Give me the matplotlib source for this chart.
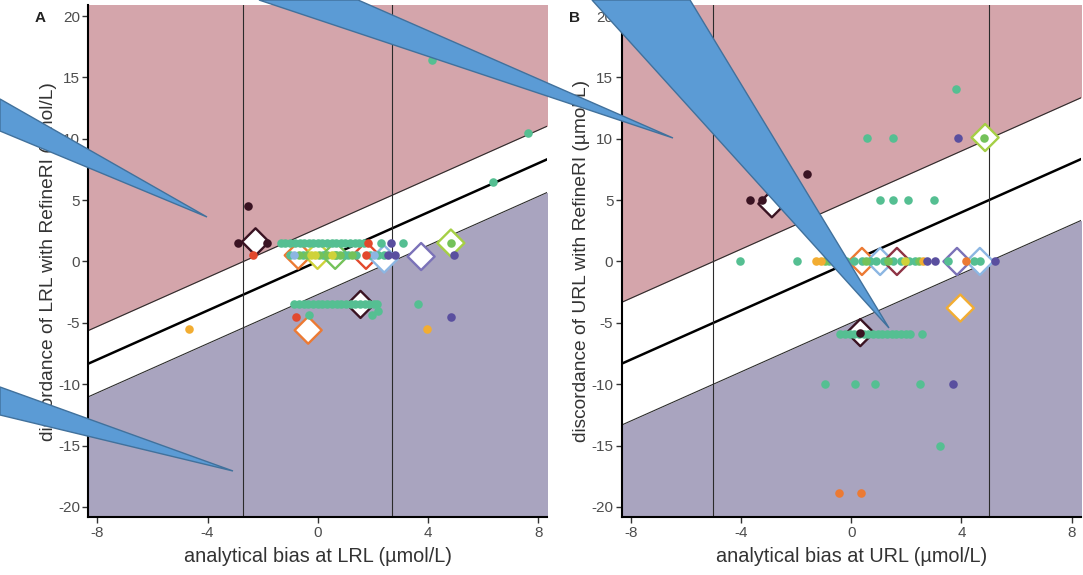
import matplotlib
matplotlib.use("Agg")
import matplotlib.pyplot as plt
from matplotlib.patches import Polygon
import numpy as np

plt.rcParams['font.family'] = ['Liberation Sans', 'DejaVu Sans']

# ---------------- colours ----------------
C_DARK = "#3a1322"
C_RED = "#e2492d"
C_ORANGE = "#ec7a33"
C_YELLOW = "#f2ad32"
C_YGREEN = "#cfd23a"
C_LIME = "#a5cf45"
C_GREEN = "#74c25a"
C_TEAL = "#55bf92"
C_LBLUE = "#8cb6e2"
C_PURPLE = "#5a4f9f"
C_DIAPURP = "#7b72b8"
C_DARKRED = "#8e3344"

RED_ZONE = "#d4a5ab"
BLUE_ZONE = "#a9a4bf"

# ---------------- panel settings ----------------
xlim = (-8.33, 8.33)
ylim = (-20.85, 20.9)
xticks = [-8, -4, 0, 4, 8]
yticks = [-20, -15, -10, -5, 0, 5, 10, 15, 20]
limit_A = 2.7   # band half-width / vertical lines panel A
limit_B = 5.0   # panel B

# ---------------- panel A data ----------------
A_dark_x = [-2.55, -2.9, -1.83]
A_dark_y = [4.5, 1.5, 1.5]
A_red_x = [-2.36, 1.84, 1.75, -0.8]
A_red_y = [0.5, 1.5, 0.5, -4.5]
A_yellow_x = [-4.68, 3.97]
A_yellow_y = [-5.5, -5.5]
A_teal_x = [-1.35, -1.18, -1.0, -0.83, -0.66, -0.5, -0.33, -0.16, 0.0, 0.17, 0.34, 0.5,
            0.67, 0.84, 1.0, 1.17, 1.34, 1.5, 1.67, 2.29, 3.11,
            -1.0, -0.55, 0.2, 0.65, 0.95, 1.1, 1.4, 1.9, 2.2, 2.4,
            -0.85, -0.68, -0.51, -0.34, -0.17, 0.0, 0.17, 0.34, 0.51, 0.68, 0.85, 1.02,
            1.19, 1.36, 1.53, 1.7, 1.87, 2.04, 2.15, 3.62, -0.32, 2.2, 1.95,
            4.13, 7.64, 6.36]
A_teal_y = [1.5] * 21 + [0.5] * 10 + [-3.5] * 19 + [-3.5, -4.4, -4.0, -4.4, 16.4, 10.5, 6.5]
A_green_x = [-0.7, -0.4, 0.05, 0.35, 0.8, 1.25, 0.63, 4.83]
A_green_y = [0.5, 0.5, 0.5, 0.5, 0.5, 0.5, 0.5, 1.5]
A_ygreen_x = [-0.25, -0.1, 0.5]
A_ygreen_y = [0.5, 0.5, 0.5]
A_lblue_x = [-0.85, 2.05]
A_lblue_y = [0.5, 0.5]
A_purple_x = [2.65, 2.55, 2.8, 4.96, 4.83]
A_purple_y = [1.5, 0.5, 0.5, 0.5, -4.5]

A_dia_x = [-2.26, -0.71, -0.01, 0.63, 1.75, 2.41, 3.75, 4.83, 1.55, -0.35]
A_dia_y = [1.6, 0.5, 0.5, 0.5, 0.5, 0.2, 0.4, 1.5, -3.5, -5.6]
A_dia_c = [C_DARK, C_ORANGE, C_YGREEN, C_GREEN, C_RED, C_LBLUE, C_DIAPURP, C_LIME, C_DARK, C_ORANGE]

# ---------------- panel B data ----------------
B_dark_x = [-3.67, -3.24, -1.61, 0.33]
B_dark_y = [5.0, 5.0, 7.1, -5.8]
B_teal_x = [0.59, 1.51, 3.81, 1.03, 1.5, 2.06, 2.99, -4.03, -1.95,
            -0.8, -0.5, -0.2, 0.1, 0.4, 0.7, 0.9, 1.2, 1.5, 1.8, 2.1, 2.3, 3.53, 4.44, 4.68,
            -0.4, -0.23, -0.06, 0.11, 0.28, 0.45, 0.62, 0.79, 0.96, 1.13, 1.3, 1.47, 1.64,
            1.81, 1.98, 2.15, 2.56,
            -0.94, 0.15, 0.87, 2.48, 3.23]
B_teal_y = [10.1, 10.1, 14.06, 5.0, 5.0, 5.0, 5.0, 0.0, 0.0] + [0.0] * 15 + [-5.9] * 17 + \
           [-10.0, -10.0, -10.0, -10.0, -15.0]
B_green_x = [-0.95, -0.35, 0.55, 1.35, 2.45, 4.83]
B_green_y = [0.0, 0.0, 0.0, 0.0, 0.0, 10.1]
B_yellow_x = [-1.27, -1.1, 2.6]
B_yellow_y = [0.0, 0.0, 0.0]
B_ygreen_x = [-0.65, 1.95]
B_ygreen_y = [0.0, 0.0]
B_purple_x = [3.87, 2.75, 3.05, 5.23, 3.69]
B_purple_y = [10.1, 0.0, 0.0, 0.0, -10.0]
B_orange_x = [-0.44, 0.36, 4.17]
B_orange_y = [-18.9, -18.9, 0.0]

B_dia_x = [-2.88, 0.39, 1.05, 1.66, 3.84, 4.67, 3.96, 4.86, 0.33]
B_dia_y = [4.7, 0.0, 0.0, 0.0, 0.0, 0.0, -3.8, 10.1, -5.8]
B_dia_c = [C_DARK, C_ORANGE, C_LBLUE, C_DARKRED, C_DIAPURP, C_LBLUE, C_YELLOW, C_LIME, C_DARK]

# ---------------- callout overlays (figure pixels) ----------------
callouts = [
    [(259, 0), (358, 0), (673, 138)],
    [(0, 99), (0, 131), (207, 217)],
    [(0, 387), (0, 415), (233, 471)],
    [(592, 0), (690, 0), (889, 328)],
]

W, H = 1083, 575
fig = plt.figure(figsize=(W / 100, H / 100), dpi=100)


def make_panel(rect, lim, series, dia, xlabel, ylabel, letter, letter_x):
    ax = fig.add_axes(rect)
    ax.set_xlim(*xlim)
    ax.set_ylim(*ylim)
    xx = np.array([xlim[0] - 1, xlim[1] + 1])
    ax.fill_between(xx, xx + lim, 40, color=RED_ZONE, lw=0, zorder=0)
    ax.fill_between(xx, -40, xx - lim, color=BLUE_ZONE, lw=0, zorder=0)
    ax.plot(xx, xx + lim, color="#2b2b2b", lw=0.8, zorder=1)
    ax.plot(xx, xx - lim, color="#2b2b2b", lw=0.8, zorder=1)
    ax.plot(xx, xx, color="black", lw=1.8, zorder=1)
    ax.axvline(-lim, color="#2b2b2b", lw=0.8, zorder=1)
    ax.axvline(lim, color="#2b2b2b", lw=0.8, zorder=1)
    dx, dy, dc = dia
    ax.scatter(dx, dy, s=190, marker="D", facecolor="white", edgecolor=dc,
               linewidths=1.7, zorder=2)
    for x, y, c in series:
        ax.scatter(x, y, s=38, color=c, linewidths=0, zorder=3)
    for s in ("top", "right"):
        ax.spines[s].set_visible(False)
    for s in ("left", "bottom"):
        ax.spines[s].set_linewidth(1.5)
        ax.spines[s].set_color("black")
    ax.set_xticks(xticks)
    ax.set_yticks(yticks)
    ax.set_xticklabels([str(v) for v in xticks])
    ax.set_yticklabels([str(v) for v in yticks])
    ax.tick_params(direction="out", length=4, width=1, color="#333333",
                   labelsize=11, labelcolor="#4d4d4d", pad=2)
    ax.set_xlabel(xlabel, fontsize=14.3, color="#333333", labelpad=5)
    ax.set_ylabel(ylabel, fontsize=13.8, color="#333333", labelpad=1)
    fig.text(letter_x, 0.968, letter, fontsize=11, fontweight="bold", color="#222222",
             ha="center", va="center")
    return ax


axA = make_panel([88.3 / W, 1 - 517.3 / H, 459 / W, 512.3 / H], limit_A,
                 [(A_teal_x, A_teal_y, C_TEAL), (A_green_x, A_green_y, C_GREEN),
                  (A_ygreen_x, A_ygreen_y, C_YGREEN), (A_lblue_x, A_lblue_y, C_LBLUE),
                  (A_purple_x, A_purple_y, C_PURPLE), (A_red_x, A_red_y, C_RED),
                  (A_yellow_x, A_yellow_y, C_YELLOW), (A_dark_x, A_dark_y, C_DARK)],
                 (A_dia_x, A_dia_y, A_dia_c),
                 "analytical bias at LRL (µmol/L)", "discordance of LRL with RefineRI (µmol/L)",
                 "A", 40 / W)
axB = make_panel([621.7 / W, 1 - 517.3 / H, 459 / W, 512.3 / H], limit_B,
                 [(B_teal_x, B_teal_y, C_TEAL), (B_green_x, B_green_y, C_GREEN),
                  (B_ygreen_x, B_ygreen_y, C_YGREEN), (B_yellow_x, B_yellow_y, C_YELLOW),
                  (B_purple_x, B_purple_y, C_PURPLE), (B_orange_x, B_orange_y, C_ORANGE),
                  (B_dark_x, B_dark_y, C_DARK)],
                 (B_dia_x, B_dia_y, B_dia_c),
                 "analytical bias at URL (µmol/L)", "discordance of URL with RefineRI (µmol/L)",
                 "B", 574 / W)

ov = fig.add_axes([0, 0, 1, 1], zorder=10)
ov.set_xlim(0, W)
ov.set_ylim(H, 0)
ov.axis("off")
ov.patch.set_alpha(0)
for pts in callouts:
    ov.add_patch(Polygon(pts, closed=True, facecolor="#5b9bd5", edgecolor="#41719c", lw=1))

fig.savefig("out.png", dpi=100)
